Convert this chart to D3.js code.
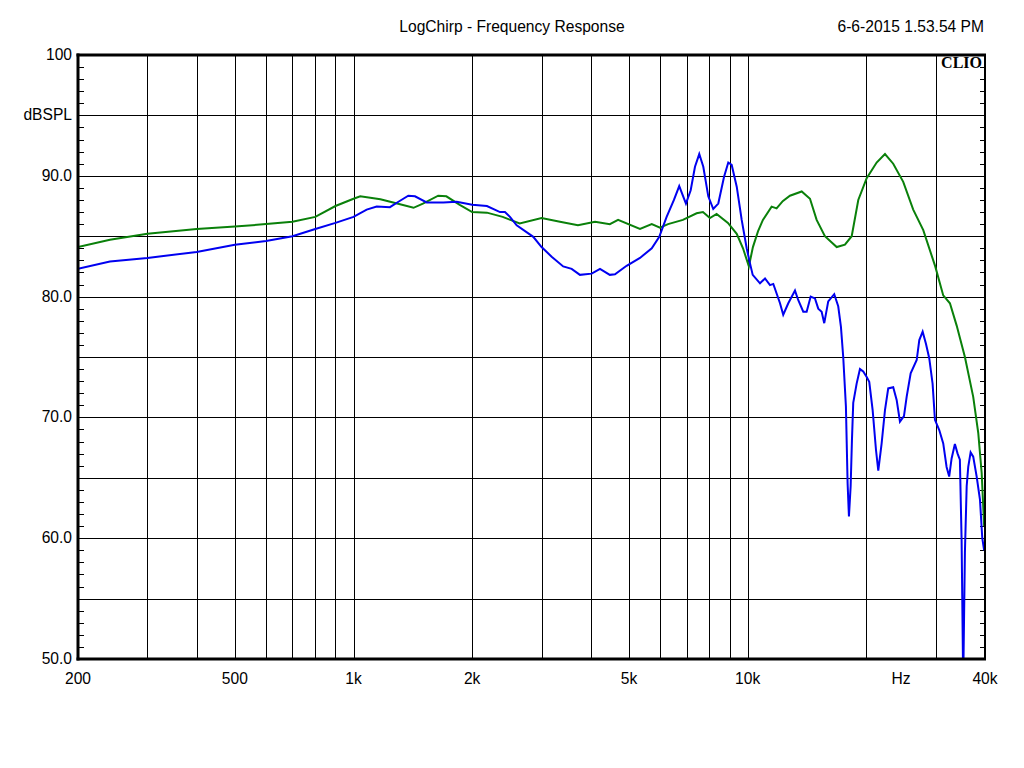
<!DOCTYPE html>
<html>
<head>
<meta charset="utf-8">
<script src="https://cdn.jsdelivr.net/npm/d3@7"></script>
<style>
  body { margin: 0; background: #fff; }
  svg text { font-family: "Liberation Sans", Arial, sans-serif; font-size: 15.6px; fill: #000; }
</style>
</head>
<body>
<div id="chart"></div>
<script>
var title = "LogChirp - Frequency Response";
var stamp = "6-6-2015 1.53.54 PM";

// green trace
var greenFreq = [200, 241, 300, 400, 500, 600, 700, 800, 900, 1000, 1040, 1170, 1290, 1420, 1500, 1640, 1720, 1860, 2000, 2180, 2390, 2640, 3000, 3340, 3710, 4100, 4470, 4690, 5330, 5710, 5990, 6280, 6850, 7420, 7700, 8020, 8340, 8910, 9380, 9730, 10070, 10310, 10620, 10930, 11500, 11840, 12270, 12800, 13710, 14390, 14960, 15700, 16820, 17650, 18360, 19080, 20040, 21240, 22300, 23400, 24810, 26300, 27890, 29910, 31340, 32590, 33900, 35570, 37340, 38460, 39230, 39800];
var greenDb = [84.1, 84.7, 85.2, 85.6, 85.8, 86.0, 86.2, 86.6, 87.5, 88.1, 88.3, 88.05, 87.7, 87.35, 87.7, 88.35, 88.3, 87.6, 87.0, 86.95, 86.6, 86.05, 86.5, 86.2, 85.9, 86.2, 86.0, 86.35, 85.6, 86.0, 85.7, 86.0, 86.35, 86.9, 87.0, 86.5, 86.85, 86.1, 85.2, 84.0, 82.5, 84.1, 85.4, 86.35, 87.45, 87.3, 87.9, 88.35, 88.7, 88.1, 86.35, 85.0, 84.1, 84.3, 85.0, 88.0, 89.8, 91.1, 91.8, 91.0, 89.5, 87.2, 85.5, 82.5, 80.1, 79.45, 77.6, 75.0, 71.7, 68.7, 65.4, 61.0];

// blue trace
var blueFreq = [200, 241, 300, 400, 500, 600, 700, 800, 900, 1000, 1080, 1145, 1237, 1300, 1377, 1432, 1533, 1690, 1827, 2000, 2180, 2353, 2422, 2494, 2594, 2858, 3000, 3182, 3404, 3576, 3754, 4020, 4220, 4470, 4606, 4930, 5330, 5710, 5966, 6228, 6500, 6704, 6972, 7168, 7350, 7536, 7716, 7944, 8178, 8422, 8708, 8928, 9108, 9380, 9656, 9942, 10136, 10298, 10746, 11066, 11392, 11614, 12078, 12308, 12676, 13182, 13440, 13836, 14112, 14448, 14814, 15102, 15404, 15640, 16008, 16580, 16970, 17242, 17474, 17750, 17926, 18066, 18248, 18386, 18526, 18898, 19268, 19640, 20040, 20342, 20750, 21160, 21444, 21870, 22300, 22727, 23400, 23874, 24340, 24916, 25310, 25910, 26840, 27250, 27790, 28330, 28880, 29450, 29860, 30620, 31340, 31960, 32450, 32910, 33550, 34080, 34540, 34890, 35220, 35570, 35940, 36270, 36780, 37340, 38100, 38840, 39370, 39800];
var blueDb = [82.3, 82.9, 83.2, 83.7, 84.3, 84.6, 85.0, 85.6, 86.1, 86.6, 87.2, 87.45, 87.4, 87.85, 88.35, 88.3, 87.8, 87.8, 87.85, 87.6, 87.5, 87.0, 87.0, 86.6, 85.9, 84.95, 84.1, 83.3, 82.5, 82.3, 81.8, 81.9, 82.3, 81.8, 81.85, 82.55, 83.2, 84.0, 84.95, 86.6, 88.0, 89.15, 87.7, 88.8, 90.75, 91.8, 90.75, 88.3, 87.25, 87.7, 89.9, 91.1, 90.9, 89.1, 86.35, 84.0, 82.75, 81.8, 81.1, 81.5, 80.95, 81.05, 79.45, 78.5, 79.45, 80.5, 79.7, 78.75, 78.75, 80.0, 79.85, 79.0, 78.75, 77.8, 79.6, 80.2, 79.2, 77.5, 75.0, 70.9, 64.55, 61.8, 64.3, 68.1, 71.2, 72.8, 74.0, 73.8, 73.35, 72.95, 70.6, 67.3, 65.6, 67.85, 70.6, 72.4, 72.5, 71.45, 69.65, 70.1, 71.7, 73.65, 74.75, 76.4, 77.1, 76.1, 74.9, 72.8, 69.8, 68.95, 67.85, 65.9, 65.1, 66.6, 67.8, 67.0, 66.5, 59.85, 48.0, 58.8, 64.3, 65.9, 67.1, 66.75, 65.1, 63.2, 60.0, 59.0];

var gridFreqs = [300, 400, 500, 600, 700, 800, 900, 1000, 2000, 3000, 4000, 5000, 6000, 7000, 8000, 9000, 10000, 20000, 30000];
var xTickVals = [200, 500, 1000, 2000, 5000, 10000, 40000];
var xTickText = ["200", "500", "1k", "2k", "5k", "10k", "40k"];
var yGridVals = [55, 60, 65, 70, 75, 80, 85, 90, 95];
var yTickVals = [100, 95, 90, 80, 70, 60, 50];
var yTickText = ["100", "dBSPL", "90.0", "80.0", "70.0", "60.0", "50.0"];

var W = 1024, H = 768;
var pLeft = 78, pRight = 985, pTop = 55, pBottom = 659;

var svg = d3.select("#chart").append("svg")
    .attr("width", W)
    .attr("height", H);

var x = d3.scaleLog().domain([200, 40000]).range([pLeft, pRight]);
var y = d3.scaleLinear().domain([50, 100]).range([pBottom, pTop]);

svg.append("defs").append("clipPath").attr("id", "plot")
    .append("rect")
    .attr("x", pLeft).attr("y", pTop)
    .attr("width", pRight - pLeft).attr("height", pBottom - pTop);

//grid
svg.selectAll(".vgrid").data(gridFreqs).enter().append("line")
    .attr("x1", function(d) { return Math.round(x(d)) + 0.5; })
    .attr("x2", function(d) { return Math.round(x(d)) + 0.5; })
    .attr("y1", pTop).attr("y2", pBottom)
    .attr("stroke", "#000").attr("stroke-width", 1);

svg.selectAll(".hgrid").data(yGridVals).enter().append("line")
    .attr("x1", pLeft).attr("x2", pRight)
    .attr("y1", function(d) { return Math.round(y(d)) + 0.5; })
    .attr("y2", function(d) { return Math.round(y(d)) + 0.5; })
    .attr("stroke", "#000").attr("stroke-width", 1);

//minor ticks on left and right, every 1 dB
var minor = d3.range(51, 100);
svg.selectAll(".ltick").data(minor).enter().append("line")
    .attr("x1", pLeft).attr("x2", pLeft + 6)
    .attr("y1", function(d) { return Math.round(y(d)) + 0.5; })
    .attr("y2", function(d) { return Math.round(y(d)) + 0.5; })
    .attr("stroke", "#000");
svg.selectAll(".rtick").data(minor).enter().append("line")
    .attr("x1", pRight - 5).attr("x2", pRight)
    .attr("y1", function(d) { return Math.round(y(d)) + 0.5; })
    .attr("y2", function(d) { return Math.round(y(d)) + 0.5; })
    .attr("stroke", "#000");

//curves
var line = d3.line()
    .x(function(d) { return x(d[0]); })
    .y(function(d) { return y(d[1]); });

var g = svg.append("g").attr("clip-path", "url(#plot)");
g.append("path")
    .datum(greenFreq.map(function(f, i) { return [f, greenDb[i]]; }))
    .attr("d", line)
    .attr("fill", "none").attr("stroke", "#0a800a").attr("stroke-width", 2);
g.append("path")
    .datum(blueFreq.map(function(f, i) { return [f, blueDb[i]]; }))
    .attr("d", line)
    .attr("fill", "none").attr("stroke", "#0000f0").attr("stroke-width", 2);

//frame
svg.append("line").attr("x1", pLeft).attr("x2", pLeft).attr("y1", pTop - 1.5).attr("y2", pBottom + 1.5)
    .attr("stroke", "#000").attr("stroke-width", 3);
svg.append("line").attr("x1", pLeft - 1.5).attr("x2", pRight + 1).attr("y1", pTop).attr("y2", pTop)
    .attr("stroke", "#000").attr("stroke-width", 3);
svg.append("line").attr("x1", pLeft - 1.5).attr("x2", pRight + 1).attr("y1", pBottom).attr("y2", pBottom)
    .attr("stroke", "#000").attr("stroke-width", 3);
svg.append("line").attr("x1", pRight).attr("x2", pRight).attr("y1", pTop).attr("y2", pBottom)
    .attr("stroke", "#000").attr("stroke-width", 2);

//labels
svg.selectAll(".ylab").data(yTickVals).enter().append("text")
    .attr("x", pLeft - 6)
    .attr("y", function(d) { return y(d) + 5; })
    .attr("text-anchor", "end")
    .text(function(d, i) { return yTickText[i]; });

svg.selectAll(".xlab").data(xTickVals).enter().append("text")
    .attr("x", function(d) { return x(d); })
    .attr("y", pBottom + 25)
    .attr("text-anchor", "middle")
    .text(function(d, i) { return xTickText[i]; });

svg.append("text").attr("x", x(24500)).attr("y", pBottom + 25)
    .attr("text-anchor", "middle").text("Hz");

svg.append("text").attr("x", 512).attr("y", 32)
    .attr("text-anchor", "middle").text(title);
svg.append("text").attr("x", 984).attr("y", 32)
    .attr("text-anchor", "end").text(stamp);

svg.append("text").attr("x", 982).attr("y", 68)
    .attr("text-anchor", "end")
    .style("font-family", "'Liberation Serif', 'DejaVu Serif', serif")
    .style("font-weight", "bold").style("font-size", "16px")
    .text("CLIO");
</script>
</body>
</html>
